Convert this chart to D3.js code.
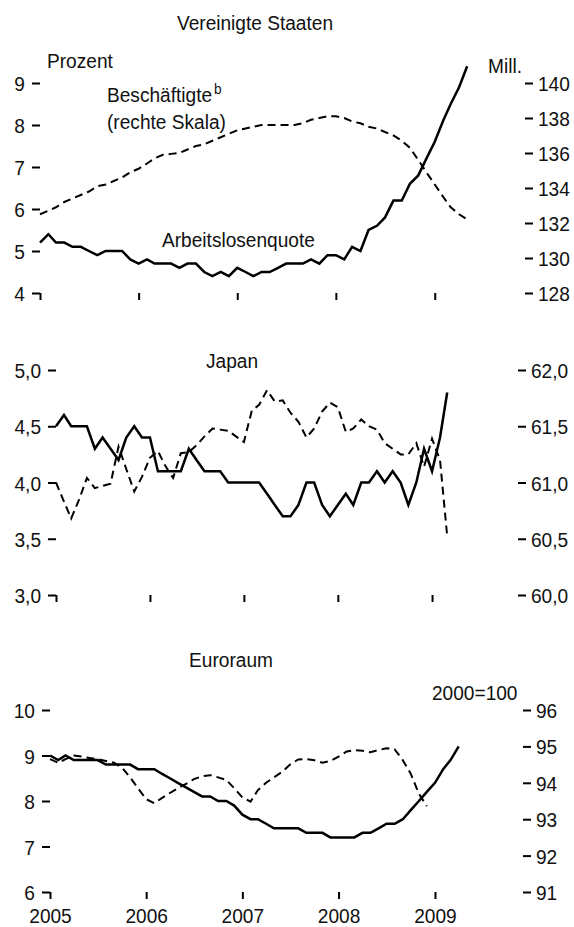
<!DOCTYPE html>
<html>
<head>
<meta charset="utf-8">
<script src="https://cdnjs.cloudflare.com/ajax/libs/d3/7.8.5/d3.min.js"></script>
<style>
  body { margin: 0; background: #fff; }
  svg text { font-family: "Liberation Sans Narrow", "Arial Narrow", "Liberation Sans", Arial, sans-serif; font-size: 21px; fill: #111; }
</style>
</head>
<body>
<div id="chart"></div>
<script>
// Monthly series, first value = January 2005
const startMonth = new Date(2005, 0, 1);
const endMonth = new Date(2009, 11, 1);
const years = [2005, 2006, 2007, 2008, 2009];

// Vereinigte Staaten
const usUnemployment = [5.2, 5.4, 5.2, 5.2, 5.1, 5.1, 5.0, 4.9, 5.0, 5.0, 5.0, 4.8,
  4.7, 4.8, 4.7, 4.7, 4.7, 4.6, 4.7, 4.7, 4.5, 4.4, 4.5, 4.4,
  4.6, 4.5, 4.4, 4.5, 4.5, 4.6, 4.7, 4.7, 4.7, 4.8, 4.7, 4.9,
  4.9, 4.8, 5.1, 5.0, 5.5, 5.6, 5.8, 6.2, 6.2, 6.6, 6.8, 7.2,
  7.6, 8.1, 8.5, 8.9, 9.4];
const usEmployment = [132.5, 132.7, 132.9, 133.2, 133.4, 133.6, 133.8, 134.1, 134.2, 134.4, 134.6, 134.9,
  135.1, 135.4, 135.7, 135.9, 135.95, 136.0, 136.2, 136.4, 136.5, 136.7, 136.9, 137.1,
  137.3, 137.4, 137.5, 137.6, 137.6, 137.6, 137.6, 137.6, 137.7, 137.9, 138.0, 138.1,
  138.1, 138.0, 137.8, 137.7, 137.5, 137.4, 137.2, 137.0, 136.7, 136.3, 135.6, 134.9,
  134.2, 133.5, 132.9, 132.5, 132.2];
const usLeftTicks = [4, 5, 6, 7, 8, 9];
const usRightTicks = [128, 130, 132, 134, 136, 138, 140];

// Japan
const jpUnemployment = [4.5, 4.6, 4.5, 4.5, 4.5, 4.3, 4.4, 4.3, 4.2, 4.4, 4.5, 4.4,
  4.4, 4.1, 4.1, 4.1, 4.1, 4.3, 4.2, 4.1, 4.1, 4.1, 4.0, 4.0,
  4.0, 4.0, 4.0, 3.9, 3.8, 3.7, 3.7, 3.8, 4.0, 4.0, 3.8, 3.7,
  3.8, 3.9, 3.8, 4.0, 4.0, 4.1, 4.0, 4.1, 4.0, 3.8, 4.0, 4.3,
  4.1, 4.4, 4.8];
const jpEmployment = [61.0, 60.83, 60.68, 60.85, 61.04, 60.95, 60.97, 60.99, 61.32, 61.12, 60.92, 61.05,
  61.22, 61.28, 61.15, 61.04, 61.26, 61.27, 61.33, 61.41, 61.48, 61.47, 61.46, 61.41,
  61.36, 61.64, 61.69, 61.82, 61.72, 61.73, 61.62, 61.54, 61.4, 61.48, 61.63, 61.71,
  61.67, 61.45, 61.48, 61.56, 61.5, 61.47, 61.35, 61.3, 61.25, 61.25, 61.35, 61.14,
  61.39, 61.2, 60.52];
const jpLeftTicks = [3, 3.5, 4, 4.5, 5];
const jpRightTicks = [60, 60.5, 61, 61.5, 62];

// Euroraum
const euUnemployment = [9.0, 8.9, 9.0, 8.9, 8.9, 8.9, 8.9, 8.8, 8.8, 8.8, 8.8, 8.7,
  8.7, 8.7, 8.6, 8.5, 8.4, 8.3, 8.2, 8.1, 8.1, 8.0, 8.0, 7.9,
  7.7, 7.6, 7.6, 7.5, 7.4, 7.4, 7.4, 7.4, 7.3, 7.3, 7.3, 7.2,
  7.2, 7.2, 7.2, 7.3, 7.3, 7.4, 7.5, 7.5, 7.6, 7.8, 8.0, 8.2,
  8.4, 8.7, 8.9, 9.2];
const euEmployment = [94.65, 94.55, 94.65, 94.75, 94.72, 94.68, 94.65, 94.6, 94.55, 94.42, 94.15, 93.85,
  93.55, 93.44, 93.58, 93.72, 93.85, 93.97, 94.1, 94.18, 94.21, 94.15, 94.08, 93.85,
  93.6, 93.48, 93.8, 94.0, 94.15, 94.3, 94.5, 94.64, 94.65, 94.62, 94.55, 94.6,
  94.72, 94.86, 94.9, 94.88, 94.84, 94.9, 94.95, 94.92, 94.62, 94.25, 93.7, 93.36];
const euLeftTicks = [6, 7, 8, 9, 10];
const euRightTicks = [91, 92, 93, 94, 95, 96];

const deFormat = d3.formatLocale({decimal: ",", thousands: ".", grouping: [3], currency: ["", " €"]});
const fmt1 = deFormat.format(".1f");

const width = 574, height = 927;
// the original type is a condensed sans; squeeze the regular one horizontally
const squeeze = 0.91;

const svg = d3.select("#chart")
  .append("svg")
    .attr("width", width)
    .attr("height", height);

function toPoints(values) {
  return values.map((v, i) => ({date: d3.timeMonth.offset(startMonth, i), value: v}));
}

// move x/y into a transform so the text can be narrowed around its anchor
function condense(selection) {
  selection.each(function() {
    const t = d3.select(this);
    const x = +t.attr("x") || 0;
    const y = +t.attr("y") || 0;
    t.attr("x", 0).attr("y", 0)
      .attr("transform", `translate(${x},${y}) scale(${squeeze},1)`);
  });
}

function drawPanel(p) {
  const g = svg.append("g");

  const xScale = d3.scaleTime()
    .domain([startMonth, endMonth])
    .range([p.left, p.right]);
  const yLeft = d3.scaleLinear()
    .domain(d3.extent(p.leftTicks))
    .range([p.bottom, p.top]);
  const yRight = d3.scaleLinear()
    .domain(d3.extent(p.rightTicks))
    .range([p.bottom, p.top]);

  // Axes (no domain line, short ticks only)
  const xAxis = d3.axisBottom(xScale)
    .tickValues(years.map(y => new Date(y, 0, 1)))
    .tickSize(7)
    .tickPadding(9)
    .tickFormat(p.yearLabels ? d3.timeFormat("%Y") : "");
  const leftAxis = d3.axisLeft(yLeft)
    .tickValues(p.leftTicks)
    .tickSize(8)
    .tickPadding(7)
    .tickFormat(p.leftFormat);
  const rightAxis = d3.axisRight(yRight)
    .tickValues(p.rightTicks)
    .tickSize(8)
    .tickPadding(5)
    .tickFormat(p.rightFormat);

  g.append("g")
    .attr("transform", `translate(0,${p.bottom})`)
    .call(xAxis);
  g.append("g")
    .attr("transform", `translate(${p.left},0)`)
    .call(leftAxis);
  g.append("g")
    .attr("transform", `translate(${p.right},0)`)
    .call(rightAxis);

  g.selectAll(".domain").remove();
  g.selectAll(".tick line")
    .attr("stroke", "#000")
    .attr("stroke-width", 2);
  g.selectAll(".tick text")
    .attr("fill", "#111")
    .style("font-size", "21px");
  g.selectAll(".tick text").filter(function() { return d3.select(this).attr("dy") === "0.32em"; })
    .attr("dy", "0.36em");
  condense(g.selectAll(".tick text"));

  // Employment (right scale), dashed
  g.append("path")
    .datum(toPoints(p.employment))
    .attr("fill", "none")
    .attr("stroke", "#000")
    .attr("stroke-width", 2)
    .attr("stroke-dasharray", "8,5")
    .attr("d", d3.line()
      .x(d => xScale(d.date))
      .y(d => yRight(d.value)));

  // Unemployment rate (left scale), solid
  g.append("path")
    .datum(toPoints(p.unemployment))
    .attr("fill", "none")
    .attr("stroke", "#000")
    .attr("stroke-width", 2.5)
    .attr("d", d3.line()
      .x(d => xScale(d.date))
      .y(d => yLeft(d.value)));

  // Titles and notes
  p.labels.forEach(l => {
    const t = g.append("text")
      .attr("x", l.x)
      .attr("y", l.y)
      .attr("text-anchor", l.anchor || "start")
      .text(l.text);
    if (l.sup) {
      t.append("tspan")
        .attr("dy", -8)
        .attr("dx", 2)
        .style("font-size", "15px")
        .text(l.sup);
    }
    condense(t);
  });
}

drawPanel({
  left: 40, right: 525, top: 83, bottom: 293,
  leftTicks: usLeftTicks, rightTicks: usRightTicks,
  leftFormat: d3.format("d"), rightFormat: d3.format("d"),
  unemployment: usUnemployment, employment: usEmployment,
  yearLabels: false,
  labels: [
    {text: "Vereinigte Staaten", x: 255, y: 30, anchor: "middle"},
    {text: "Prozent", x: 47, y: 68},
    {text: "Beschäftigte", x: 107, y: 102, sup: "b"},
    {text: "(rechte Skala)", x: 107, y: 129},
    {text: "Arbeitslosenquote", x: 162, y: 247},
    {text: "Mill.", x: 488, y: 73}
  ]
});

drawPanel({
  left: 56, right: 518, top: 370, bottom: 595,
  leftTicks: jpLeftTicks, rightTicks: jpRightTicks,
  leftFormat: fmt1, rightFormat: fmt1,
  unemployment: jpUnemployment, employment: jpEmployment,
  yearLabels: false,
  labels: [
    {text: "Japan", x: 232, y: 368, anchor: "middle"}
  ]
});

drawPanel({
  left: 50, right: 523, top: 710, bottom: 892,
  leftTicks: euLeftTicks, rightTicks: euRightTicks,
  leftFormat: d3.format("d"), rightFormat: d3.format("d"),
  unemployment: euUnemployment, employment: euEmployment,
  yearLabels: true,
  labels: [
    {text: "Euroraum", x: 231, y: 667, anchor: "middle"},
    {text: "2000=100", x: 432, y: 700}
  ]
});
</script>
</body>
</html>
